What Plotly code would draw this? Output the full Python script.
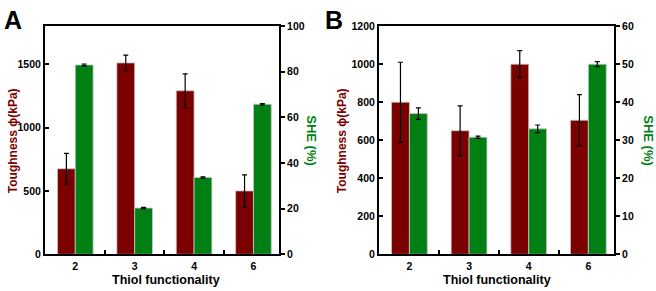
import plotly.graph_objects as go

categories = ["2", "3", "4", "6"]
toughness_A = [675, 1510, 1290, 500]
toughness_A_err = [122, 62, 134, 126]
she_A = [83.0, 20.3, 33.7, 65.8]
she_A_err = [0.4, 0.3, 0.3, 0.3]
toughness_B = [800, 650, 1000, 705]
toughness_B_err = [210, 131, 71, 135]
she_B = [37.0, 30.8, 33.0, 50.0]
she_B_err = [1.5, 0.3, 1.0, 0.65]

left_ticks_A = [0, 500, 1000, 1500]
right_ticks_A = [0, 20, 40, 60, 80, 100]
left_ticks_B = [0, 200, 400, 600, 800, 1000, 1200]
right_ticks_B = [0, 10, 20, 30, 40, 50, 60]

RED = "#7b0000"
GREEN = "#008012"
FONT = "Liberation Sans, Arial, sans-serif"
W, H = 656, 291

xpos = list(range(len(categories)))
dividers = [i + 0.5 for i in xpos[:-1]]
XR = [-0.51, 3.43]

def bar(y, err, color, offset, xa, ya):
    return go.Bar(
        x=xpos, y=y, width=0.3, offset=offset, xaxis=xa, yaxis=ya,
        marker=dict(color=color, line=dict(color="#c8c8c8", width=0.8)),
        error_y=dict(type="data", array=err, color="black", thickness=1.2, width=2.5),
        showlegend=False,
    )

fig = go.Figure()
fig.add_trace(bar(toughness_A, toughness_A_err, RED, -0.3, "x", "y"))
fig.add_trace(bar(she_A, she_A_err, GREEN, 0.0, "x", "y2"))
fig.add_trace(bar(toughness_B, toughness_B_err, RED, -0.3, "x2", "y3"))
fig.add_trace(bar(she_B, she_B_err, GREEN, 0.0, "x2", "y4"))
# invisible traces to activate divider-tick axes
fig.add_trace(go.Scatter(x=dividers, y=[0] * len(dividers), mode="markers", opacity=0,
                         xaxis="x3", yaxis="y", showlegend=False, hoverinfo="skip"))
fig.add_trace(go.Scatter(x=dividers, y=[0] * len(dividers), mode="markers", opacity=0,
                         xaxis="x4", yaxis="y3", showlegend=False, hoverinfo="skip"))

ydom = [(H - 259) / H, (H - 21) / H]
tickfont = dict(family=FONT, size=10.5, color="black", weight="bold")

def xaxis(dom, anchor):
    return dict(
        domain=dom, anchor=anchor, range=XR,
        tickvals=xpos, ticktext=categories, ticks="", ticklabelstandoff=1,
        showline=True, linecolor="black", linewidth=2, mirror=True,
        showgrid=False, zeroline=False, tickfont=tickfont,
    )

def xdiv(over, anchor):
    return dict(
        overlaying=over, anchor=anchor, side="bottom", range=XR,
        tickvals=dividers, ticks="inside", ticklen=4, tickwidth=2, tickcolor="black",
        showticklabels=False, showline=False, showgrid=False, zeroline=False,
    )

def yleft(rng, tv, anchor):
    return dict(
        domain=ydom, anchor=anchor, range=rng, tickvals=tv,
        ticks="inside", ticklen=4, tickwidth=2, tickcolor="black",
        showline=True, linecolor="black", linewidth=2,
        showgrid=False, zeroline=False, tickfont=tickfont,
    )

def yright(rng, tv, anchor, over):
    return dict(
        domain=ydom, anchor=anchor, overlaying=over, side="right", range=rng, tickvals=tv,
        ticks="outside", ticklen=4, tickwidth=2, tickcolor="black",
        showline=True, linecolor="black", linewidth=2,
        showgrid=False, zeroline=False, tickfont=tickfont,
    )

fig.update_layout(
    width=W, height=H, margin=dict(l=0, r=0, t=0, b=0),
    plot_bgcolor="white", paper_bgcolor="white",
    font=dict(family=FONT, weight="bold", color="black"),
    xaxis=xaxis([45 / W, 279 / W], "y"),
    yaxis=yleft([0, 1800], left_ticks_A, "x"),
    yaxis2=yright([0, 100], right_ticks_A, "x", "y"),
    xaxis2=xaxis([379 / W, 614 / W], "y3"),
    yaxis3=yleft([0, 1200], left_ticks_B, "x2"),
    yaxis4=yright([0, 60], right_ticks_B, "x2", "y3"),
    xaxis3=xdiv("x", "y"),
    xaxis4=xdiv("x2", "y3"),
)

def ann(text, x, y, color, size, angle=0):
    fig.add_annotation(
        text=text, x=x / W, y=(H - y) / H, xref="paper", yref="paper",
        showarrow=False, textangle=angle, xanchor="center", yanchor="middle",
        font=dict(family=FONT, size=size, color=color, weight="bold"),
    )

ann("Toughness ϕ(kPa)", 13, 141, RED, 12, -90)
ann("SHE (%)", 312, 140, GREEN, 13, 90)
ann("Toughness ϕ(kPa)", 342, 141, RED, 12, -90)
ann("SHE (%)", 649, 140, GREEN, 13, 90)
ann("Thiol functionality", 166, 285.5, "black", 12.5)
ann("Thiol functionality", 497, 285.5, "black", 12.5)
ann("A", 13, 15, "black", 25)
ann("B", 334, 15, "black", 25)

fig.write_html("out.html")
